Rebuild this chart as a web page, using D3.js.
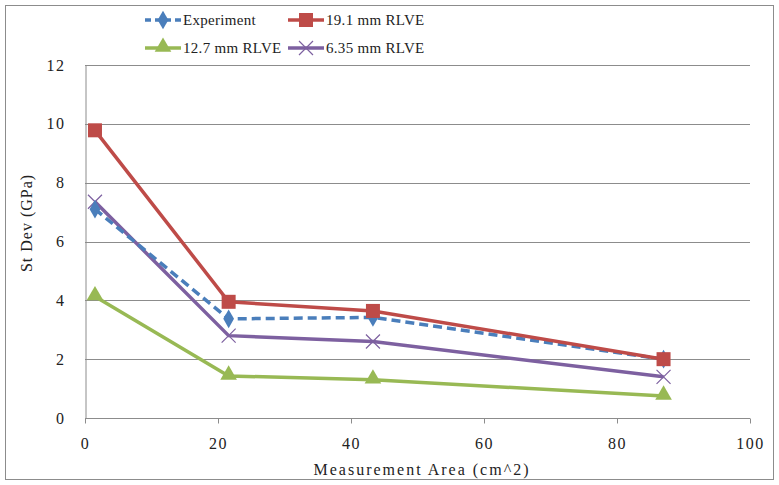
<!DOCTYPE html>
<html>
<script src='https://d3js.org/d3.v7.min.js'></script>
<style>
body {margin: 0; background: white;}
text {font-family: "Liberation Serif", "Times New Roman", serif; fill: #222;}
.grid line {stroke: #8c8c8c; stroke-width: 1;}
.axis path, .axis line {stroke: #8c8c8c;}
</style>
<body>
<svg width=779 height=485></svg>
<script>
// measurement area (cm^2)
var areas = [1.5, 21.6, 43.3, 87.0];
var experiment = [7.1, 3.37, 3.42, 2.0];
var rlve191 = [9.78, 3.95, 3.64, 2.0];
var rlve127 = [4.13, 1.43, 1.3, 0.75];
var rlve635 = [7.35, 2.8, 2.6, 1.4];
var xTicks = [0, 20, 40, 60, 80, 100];
var yTicks = [0, 2, 4, 6, 8, 10, 12];

var series = [
  {name: "Experiment", values: experiment, color: "#4a7ebb", marker: "diamond", dash: "9,5"},
  {name: "19.1 mm RLVE", values: rlve191, color: "#be4b48", marker: "square", dash: null},
  {name: "12.7 mm RLVE", values: rlve127, color: "#98b954", marker: "triangle", dash: null},
  {name: "6.35 mm RLVE", values: rlve635, color: "#7d60a0", marker: "x", dash: null}
];

var svg = d3.select("svg");
var x = d3.scaleLinear().domain([0, 100]).range([85, 750]);
var y = d3.scaleLinear().domain([0, 12]).range([418, 65]);

// outer chart border
svg.append("rect").attr("x", 5.5).attr("y", 5.5).attr("width", 768).attr("height", 474)
  .attr("fill", "white").attr("stroke", "#8c8c8c");

// gridlines
svg.append("g").attr("class", "grid")
  .selectAll("line").data(yTicks.slice(1)).enter().append("line")
  .attr("x1", x(0)).attr("x2", x(100))
  .attr("y1", function(d) { return Math.round(y(d)) + 0.5; })
  .attr("y2", function(d) { return Math.round(y(d)) + 0.5; });

var yAxis = svg.append("g").attr("class", "axis")
  .attr("transform", "translate(" + (x(0) + 0.5) + ",0)")
  .call(d3.axisLeft(y).tickValues(yTicks).tickSize(0).tickPadding(20));
var xAxis = svg.append("g").attr("class", "axis")
  .attr("transform", "translate(0," + (y(0) + 0.5) + ")")
  .call(d3.axisBottom(x).tickValues(xTicks).tickSize(5).tickPadding(14));
svg.selectAll(".axis text").style("font-family", "Liberation Serif, serif")
  .style("font-size", "16px").style("letter-spacing", "1.5px").attr("fill", "#222");
xAxis.select(".domain").attr("d", "M" + x(0) + ",0H" + x(100));

svg.append("text").attr("x", 422).attr("y", 475).attr("text-anchor", "middle")
  .style("font-size", "16px").style("letter-spacing", "2px").text("Measurement Area (cm^2)");
svg.append("text").attr("transform", "translate(32,223) rotate(-90)")
  .attr("text-anchor", "middle").style("font-size", "16px").style("letter-spacing", "1px")
  .text("St Dev (GPa)");

var line = d3.line().x(function(d) { return x(d[0]); }).y(function(d) { return y(d[1]); });

function drawMarker(g, type, color, cx, cy) {
  if (type === "diamond") {
    g.append("path").attr("d", d3.symbol().type(d3.symbolDiamond).size(100)())
      .attr("transform", "translate(" + cx + "," + cy + ")").attr("fill", color);
  } else if (type === "square") {
    g.append("rect").attr("x", cx - 7).attr("y", cy - 7).attr("width", 14).attr("height", 14)
      .attr("fill", color);
  } else if (type === "triangle") {
    g.append("path").attr("d", d3.symbol().type(d3.symbolTriangle).size(120)())
      .attr("transform", "translate(" + cx + "," + (cy - 1) + ")").attr("fill", color);
  } else {
    g.append("path").attr("d", "M-7,-7L7,7M-7,7L7,-7")
      .attr("transform", "translate(" + cx + "," + cy + ")")
      .attr("stroke", color).attr("stroke-width", 1.2).attr("fill", "none");
  }
}

// draw from back to front: purple, green, blue, red
[3, 2, 0, 1].forEach(function(i) {
  var s = series[i];
  var pts = areas.map(function(a, j) { return [a, s.values[j]]; });
  var g = svg.append("g");
  g.append("path").datum(pts).attr("d", line).attr("fill", "none")
    .attr("stroke", s.color).attr("stroke-width", 3.5)
    .attr("stroke-dasharray", s.dash);
  pts.forEach(function(p) { drawMarker(g, s.marker, s.color, x(p[0]), y(p[1])); });
});

// legend
var legendPos = [[145, 20], [288, 20], [145, 48], [288, 48]];
series.forEach(function(s, i) {
  var lx = legendPos[i][0], ly = legendPos[i][1];
  var g = svg.append("g");
  g.append("line").attr("x1", lx).attr("x2", lx + 36).attr("y1", ly).attr("y2", ly)
    .attr("stroke", s.color).attr("stroke-width", 3.5).attr("stroke-dasharray", s.dash ? "6,4" : null);
  drawMarker(g, s.marker, s.color, lx + 18, ly);
  g.append("text").attr("x", lx + 38).attr("y", ly + 5).style("font-size", "15px")
    .style("letter-spacing", "0.3px").text(s.name);
});
</script>
</body>
</html>
